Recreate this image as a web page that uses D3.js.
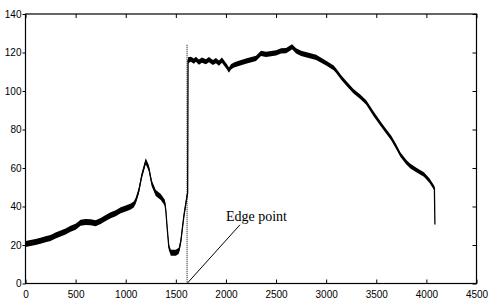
<!DOCTYPE html>
<meta charset="utf-8">
<style>
body { margin: 0; background: #fff; }
.tick text { font-family: "Liberation Sans", Arial, sans-serif; font-size: 10px; fill: #000; }
.note { font-family: "Liberation Serif", "Times New Roman", serif; font-size: 14px; }
</style>
<svg width="492" height="302"></svg>
<script src="https://d3js.org/d3.v7.min.js"></script>
<script>

var xs = [0, 50, 100, 150, 200, 250, 300, 350, 400, 450, 500, 550, 600, 650, 700, 750, 800, 850, 900, 950,
  1000, 1050, 1080, 1100, 1130, 1160, 1200, 1230, 1260, 1300, 1350, 1390, 1400, 1415, 1430, 1450, 1500, 1530,
  1550, 1580, 1610, 1618, 1622, 1650, 1680, 1700, 1730, 1760, 1800, 1830, 1870, 1900, 1930, 1960, 1990, 2010,
  2030, 2050, 2080, 2120, 2200, 2300, 2350, 2400, 2500, 2550, 2600, 2640, 2660, 2700, 2750, 2900, 3000, 3075,
  3100, 3150, 3200, 3270, 3340, 3400, 3475, 3550, 3600, 3650, 3700, 3740, 3800, 3840, 3900, 3975, 4030, 4080, 4085];
var signal = [20.5, 21, 21.6, 22.2, 23, 23.6, 25, 26, 27, 28.5, 29.5, 31.5, 32, 31.8, 31.3, 32.5, 34, 35.5, 36.5, 38,
  39, 40, 41, 43, 48, 56, 63.5, 60, 52, 47, 45, 42, 38, 28, 19, 16, 16, 17,
  22, 35, 45, 47, 116, 116.5, 115.5, 116.5, 115, 116, 115.2, 116.3, 114.8, 115.8, 114.5, 116, 114, 112.5,
  110.8, 112.5, 113.5, 114.2, 115.5, 117, 119.5, 119, 119.8, 120.8, 121, 122.3, 123, 120.8, 119.5, 117.5, 114.5, 112,
  110.5, 107, 104, 100, 97, 94, 88, 82.5, 79, 75.5, 71, 67, 63, 61, 59, 56.6, 53.5, 49.5, 30.6];
var edgeX = 1612;
var xTicks = [0, 500, 1000, 1500, 2000, 2500, 3000, 3500, 4000, 4500];
var yTicks = [0, 20, 40, 60, 80, 100, 120, 140];

var svg = d3.select("svg");
var m = {left: 25.5, right: 476.5, top: 14, bottom: 283.5};

var x = d3.scaleLinear().domain([0, 4500]).range([m.left, m.right]);
var y = d3.scaleLinear().domain([0, 140]).range([m.bottom, m.top]);

var pts = xs.map(function(d, i) { return [d, signal[i]]; });

// noisy band thickness
function half(v) { return v < 1650 ? 3 : (v < 3000 ? 2.6 : 2.3); }

svg.append("path")
  .datum(pts.slice(0, pts.length - 1))
  .attr("fill", "#000")
  .attr("d", d3.area()
    .x(function(d) { return x(d[0]); })
    .y0(function(d) { return y(d[1]) - half(d[0]); })
    .y1(function(d) { return y(d[1]) + half(d[0]); }));

svg.append("path")
  .datum(pts)
  .attr("fill", "none")
  .attr("stroke", "#000")
  .attr("stroke-width", 1.3)
  .attr("d", d3.line()
    .x(function(d) { return x(d[0]); })
    .y(function(d) { return y(d[1]); }));

// dotted edge marker
svg.append("line")
  .attr("x1", x(edgeX)).attr("x2", x(edgeX))
  .attr("y1", y(124)).attr("y2", y(0))
  .attr("stroke", "#000")
  .attr("stroke-width", 1)
  .attr("stroke-dasharray", "1,1");

svg.append("line")
  .attr("x1", x(edgeX)).attr("y1", y(0))
  .attr("x2", x(2140)).attr("y2", y(30.5))
  .attr("stroke", "#000")
  .attr("stroke-width", 1);

svg.append("text")
  .attr("class", "note")
  .attr("x", x(2000))
  .attr("y", y(32.5))
  .text("Edge point");

// axes, matlab style box
var fmt = d3.format("d");

svg.append("g")
  .attr("transform", "translate(0," + m.bottom + ")")
  .call(d3.axisBottom(x).tickValues(xTicks).tickFormat(fmt).tickSizeInner(-4).tickSizeOuter(0).tickPadding(7))
  .call(function(g) { g.select(".domain").remove(); });

svg.append("g")
  .attr("transform", "translate(0," + m.top + ")")
  .call(d3.axisTop(x).tickValues(xTicks).tickSizeInner(-4).tickSizeOuter(0).tickFormat(""))
  .call(function(g) { g.select(".domain").remove(); });

svg.append("g")
  .attr("transform", "translate(" + m.left + ",0)")
  .call(d3.axisLeft(y).tickValues(yTicks).tickFormat(fmt).tickSizeInner(3).tickSizeOuter(0).tickPadding(1))
  .call(function(g) { g.select(".domain").remove(); });

svg.append("g")
  .attr("transform", "translate(" + m.right + ",0)")
  .call(d3.axisRight(y).tickValues(yTicks).tickSizeInner(-4).tickSizeOuter(0).tickFormat(""))
  .call(function(g) { g.select(".domain").remove(); });

svg.append("rect")
  .attr("x", m.left).attr("y", m.top)
  .attr("width", m.right - m.left).attr("height", m.bottom - m.top)
  .attr("fill", "none")
  .attr("stroke", "#000")
  .attr("stroke-width", 1.2);

</script>
